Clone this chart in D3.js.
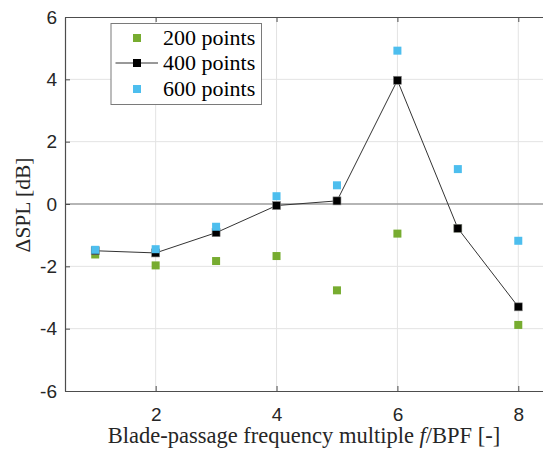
<!DOCTYPE html>
<html><head><meta charset="utf-8">
<script src="https://cdn.jsdelivr.net/npm/d3@7"></script>
<style>body{margin:0;background:#fff}svg{display:block}</style>
</head><body>
<script>
const harmonics = [1,2,3,4,5,6,7,8];
const pts200 = [-1.62,-1.97,-1.83,-1.67,-2.77,-0.95,-0.78,-3.88];
const pts400 = [-1.5,-1.57,-0.92,-0.05,0.1,3.97,-0.78,-3.3];
const pts600 = [-1.47,-1.45,-0.73,0.25,0.6,4.92,1.12,-1.18];
const xTicks = [2,4,6,8];
const yTicks = [-6,-4,-2,0,2,4,6];
const seriesNames = ["200 points","400 points","600 points"];
const colors = ["#77AC30","#000000","#4DBEEE"];

const W=543,H=449;
const svg=d3.select("body").append("svg").attr("width",W).attr("height",H);
const x=d3.scaleLinear().domain([0.5,8.5]).range([65,548.5]);
const y=d3.scaleLinear().domain([-6,6]).range([391,17]);
const g=svg.append("g");
// grid
g.selectAll(".gx").data(xTicks).enter().append("line")
 .attr("x1",d=>x(d)).attr("x2",d=>x(d)).attr("y1",y(-6)).attr("y2",y(6))
 .attr("stroke","#e3e3e3").attr("stroke-width",1);
g.selectAll(".gy").data(yTicks.filter(d=>d>-6&&d<6)).enter().append("line")
 .attr("x1",x(0.5)).attr("x2",x(8.5)).attr("y1",d=>y(d)).attr("y2",d=>y(d))
 .attr("stroke","#e3e3e3").attr("stroke-width",1);
// zero line
g.append("line").attr("x1",x(0.5)).attr("x2",x(8.5)).attr("y1",y(0)).attr("y2",y(0))
 .attr("stroke","#7a7a7a").attr("stroke-width",1.2);
// axes
const fmt=d=>String(d);
const ax=svg.append("g").attr("transform",`translate(0,${y(-6)})`)
 .call(d3.axisBottom(x).tickValues(xTicks).tickFormat(fmt).tickSizeInner(-5).tickSizeOuter(0).tickPadding(16.5));
const axT=svg.append("g").attr("transform",`translate(0,${y(6)})`)
 .call(d3.axisTop(x).tickValues(xTicks).tickSizeInner(-5).tickSizeOuter(0).tickFormat(""));
const ay=svg.append("g").attr("transform",`translate(${x(0.5)},0)`)
 .call(d3.axisLeft(y).tickValues(yTicks).tickFormat(fmt).tickSizeInner(-5).tickSizeOuter(0).tickPadding(8));
[ax,axT,ay].forEach(a=>{
 a.select(".domain").attr("stroke","#4d4d4d").attr("stroke-width",1.2);
 a.selectAll(".tick line").attr("stroke","#4d4d4d");
 a.selectAll(".tick text").attr("fill","#262626").style("font-family","'Liberation Sans',Arial,sans-serif").style("font-size","19px");
});
// markers
const ms=8;
function squares(data,col,stroke){
 svg.append("g").selectAll("rect").data(harmonics).enter().append("rect")
  .attr("x",(d,i)=>x(d)-ms/2).attr("y",(d,i)=>y(data[i])-ms/2)
  .attr("width",ms).attr("height",ms).attr("fill",col)
  .attr("stroke",stroke||"none").attr("stroke-width",stroke?0.6:0);
}
squares(pts200,colors[0]);
svg.append("path").datum(harmonics.map((h,i)=>[h,pts400[i]]))
 .attr("d",d3.line().x(d=>x(d[0])).y(d=>y(d[1])))
 .attr("fill","none").attr("stroke","#333").attr("stroke-width",1);
squares(pts400,colors[1],"#888");
squares(pts600,colors[2]);
// legend
const lg=svg.append("g");
lg.append("rect").attr("x",111).attr("y",23.5).attr("width",150.5).attr("height",81)
 .attr("fill","#fff").attr("stroke","#7a7a7a").attr("stroke-width",1);
const ly=[38,63,89];
seriesNames.forEach((n,i)=>{
 if(i===1){
  lg.append("line").attr("x1",115.5).attr("x2",158).attr("y1",ly[i]).attr("y2",ly[i]).attr("stroke","#333").attr("stroke-width",1);
 }
 lg.append("rect").attr("x",137-ms/2).attr("y",ly[i]-ms/2).attr("width",ms).attr("height",ms).attr("fill",colors[i]);
 lg.append("text").attr("x",163).attr("y",ly[i]+7).text(n)
  .style("font-family","'Liberation Serif','Times New Roman',serif").style("font-size","22px").attr("fill","#000");
});
// labels
const xl=svg.append("text").attr("x",304).attr("y",443).attr("text-anchor","middle")
 .style("font-family","'Liberation Serif','Times New Roman',serif").style("font-size","22.5px").attr("fill","#262626");
xl.append("tspan").text("Blade-passage frequency multiple ");
xl.append("tspan").style("font-style","italic").text("f");
xl.append("tspan").text("/BPF [-]");
svg.append("text").attr("transform","translate(30,205) rotate(-90)").attr("text-anchor","middle")
 .style("font-family","'Liberation Serif','Times New Roman',serif").style("font-size","21.5px").attr("fill","#262626")
 .text("ΔSPL [dB]");
</script>
</body></html>
